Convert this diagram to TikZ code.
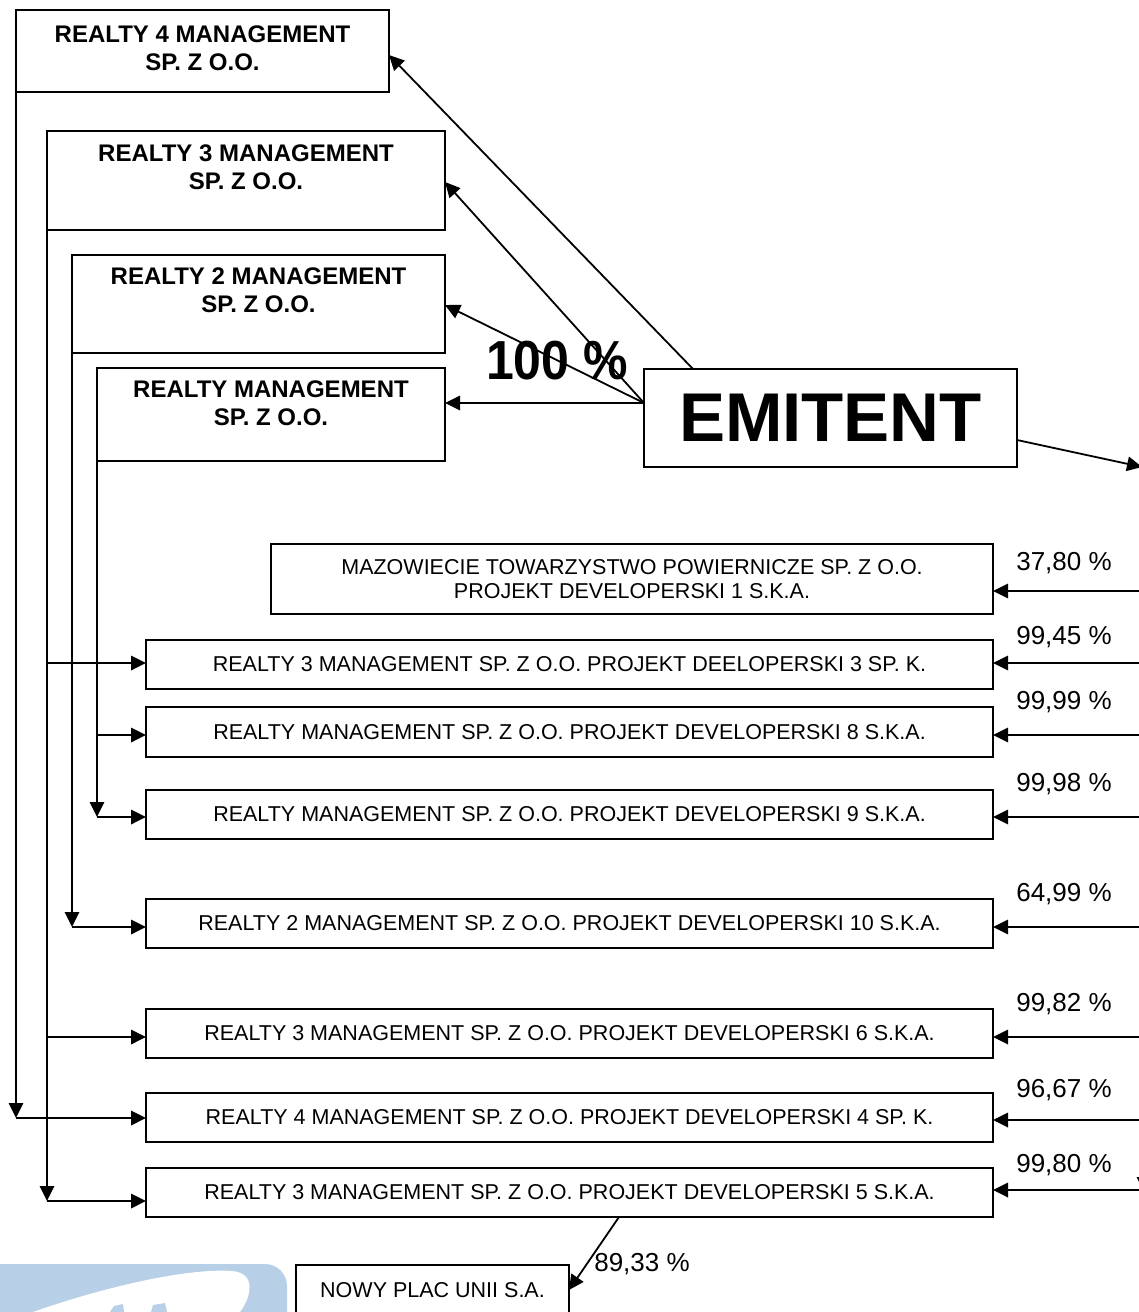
\documentclass[tikz,border=0pt]{standalone}
\usepackage{fontspec}
\setmainfont{Liberation Sans}
\usetikzlibrary{arrows.meta}
\definecolor{wm}{HTML}{B8D0E7}
\begin{document}
\begin{tikzpicture}[x=1pt,y=-1pt,
  box/.style={draw,line width=1.8pt,rectangle,inner sep=0pt,outer sep=0pt},
  toptxt/.style={font=\fontsize{24}{28}\selectfont\bfseries,align=center,inner sep=0pt,anchor=north},
  smalltxt/.style={font=\fontsize{21.5}{24.5}\selectfont,align=center,inner sep=0pt},
  pct/.style={font=\fontsize{26}{30}\selectfont,inner sep=0pt},
  arr/.style={line width=1.8pt,-{Triangle[length=15pt,width=14.5pt]}},
  ln/.style={line width=1.8pt}]
\useasboundingbox (0,0) rectangle (1139,1312);
% watermark
\fill[wm,rounded corners=22pt] (-30,1264) rectangle (287,1350);
\fill[white] (33,1312) .. controls (110,1285) and (190,1268) .. (232,1271) .. controls (256,1273) and (252,1296) .. (240,1312) -- cycle;
\fill[wm] (110,1312) -- (114,1306) -- (123,1304) -- (124,1312) -- cycle;
\fill[wm] (151,1312) -- (153,1305) -- (165,1303) -- (167,1312) -- cycle;
% top boxes
\node[box,minimum width=373pt,minimum height=82pt,
  label={[toptxt,yshift=-15.5pt]north:{REALTY 4 MANAGEMENT\\SP. Z O.O.}}] (r4) at (202.5,51) {};
\node[box,minimum width=398pt,minimum height=99pt,
  label={[toptxt,yshift=-13.5pt]north:{REALTY 3 MANAGEMENT\\SP. Z O.O.}}] (r3) at (246,180.5) {};
\node[box,minimum width=373pt,minimum height=98pt,
  label={[toptxt,yshift=-12.5pt]north:{REALTY 2 MANAGEMENT\\SP. Z O.O.}}] (r2) at (258.5,304) {};
\node[box,minimum width=348pt,minimum height=93pt,
  label={[toptxt,yshift=-12.5pt]north:{REALTY MANAGEMENT\\SP. Z O.O.}}] (r1) at (271,414.5) {};
\node[box,minimum width=373pt,minimum height=98pt,font=\fontsize{69}{70}\selectfont\bfseries] (em) at (830.5,418) {EMITENT};
\node[font=\fontsize{50}{50}\selectfont\bfseries,inner sep=0pt,yscale=1.1] (hundred) at (557,361) {100 \%};
% lower boxes
\node[box,smalltxt,minimum width=722pt,minimum height=70pt] (maz) at (632,579)
  {MAZOWIECIE TOWARZYSTWO POWIERNICZE SP. Z O.O.\\PROJEKT DEVELOPERSKI 1 S.K.A.};
\node[box,smalltxt,minimum width=847pt,minimum height=49pt] (p3) at (569.5,664.5)
  {REALTY 3 MANAGEMENT SP. Z O.O. PROJEKT DEELOPERSKI 3 SP. K.};
\node[box,smalltxt,minimum width=847pt,minimum height=50pt] (p8) at (569.5,732)
  {REALTY MANAGEMENT SP. Z O.O. PROJEKT DEVELOPERSKI 8 S.K.A.};
\node[box,smalltxt,minimum width=847pt,minimum height=49pt] (p9) at (569.5,814.5)
  {REALTY MANAGEMENT SP. Z O.O. PROJEKT DEVELOPERSKI 9 S.K.A.};
\node[box,smalltxt,minimum width=847pt,minimum height=49pt] (p10) at (569.5,923.5)
  {REALTY 2 MANAGEMENT SP. Z O.O. PROJEKT DEVELOPERSKI 10 S.K.A.};
\node[box,smalltxt,minimum width=847pt,minimum height=49pt] (p6) at (569.5,1033.5)
  {REALTY 3 MANAGEMENT SP. Z O.O. PROJEKT DEVELOPERSKI 6 S.K.A.};
\node[box,smalltxt,minimum width=847pt,minimum height=49pt] (p4) at (569.5,1117.5)
  {REALTY 4 MANAGEMENT SP. Z O.O. PROJEKT DEVELOPERSKI 4 SP. K.};
\node[box,smalltxt,minimum width=847pt,minimum height=49pt] (p5) at (569.5,1192.5)
  {REALTY 3 MANAGEMENT SP. Z O.O. PROJEKT DEVELOPERSKI 5 S.K.A.};
\node[box,fill=white,minimum width=273pt,minimum height=80pt,
  label={[smalltxt,anchor=north,yshift=-17.5pt]north:{NOWY PLAC UNII S.A.}}] (nowy) at (432.5,1305) {};
% percent labels
\node[pct] (l1) at (1064,563) {37,80 \%};
\node[pct] (l2) at (1064,637) {99,45 \%};
\node[pct] (l3) at (1064,702) {99,99 \%};
\node[pct] (l4) at (1064,784) {99,98 \%};
\node[pct] (l5) at (1064,894) {64,99 \%};
\node[pct] (l6) at (1064,1004) {99,82 \%};
\node[pct] (l7) at (1064,1090) {96,67 \%};
\node[pct] (l8) at (1064,1165) {99,80 \%};
\node[pct] (l9) at (642,1264) {89,33 \%};
% emitent connectors
\coordinate (eo) at (644,403);
\draw[arr] (693,369) -- (r4.east |- 0,55);
\draw[arr] (eo) -- (r3.east |- 0,182);
\draw[arr] (eo) -- (r2.east |- 0,305);
\draw[arr] (eo) -- (r1.east |- eo);
\coordinate (eright) at (1142,467);
\draw[arr] (em.east |- 0,440) -- (eright);
% right side inputs
\foreach \n/\yy in {maz/591,p3/663,p8/735,p9/817,p10/927,p6/1037,p4/1120,p5/1190}{
  \draw[arr] (1140,\yy) -- (\n.east |- 0,\yy);
}
\coordinate (rtop) at (1144,1165);
\draw[arr] (rtop) -- (1144,1192);
% p5 to nowy
\draw[arr] (p5.south -| 619,0) -- (nowy.east |- 0,1290);
% left side trees
\coordinate (a4) at (16,1118);
\draw[arr] (r4.south west) -- (a4);
\draw[arr] (a4) -- (p4.west |- a4);
\coordinate (a5) at (47,1201);
\draw[arr] (r3.south west) -- (a5);
\draw[arr] (a5) -- (p5.west |- a5);
\draw[arr] (r3.south west |- 0,663) -- (p3.west |- 0,663);
\draw[arr] (r3.south west |- 0,1037) -- (p6.west |- 0,1037);
\coordinate (a10) at (72,927);
\draw[arr] (r2.south west) -- (a10);
\draw[arr] (a10) -- (p10.west |- a10);
\coordinate (a9) at (97,817);
\draw[arr] (r1.south west) -- (a9);
\draw[arr] (a9) -- (p9.west |- a9);
\draw[arr] (r1.south west |- 0,735) -- (p8.west |- 0,735);
\end{tikzpicture}
\end{document}
